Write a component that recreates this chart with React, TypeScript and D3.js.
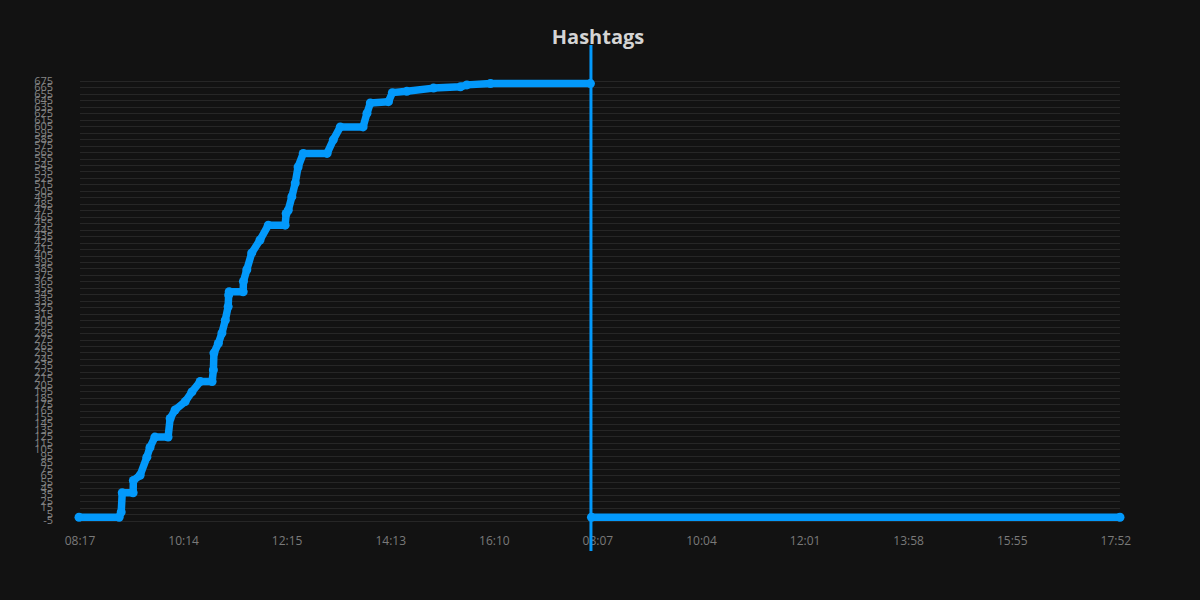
import { useEffect, useRef } from "react";
import * as d3 from "d3";

// x is a sample slot (about 3 min each); tick labels sit every 40 slots
const tickSlots = [0, 40, 80, 120, 160, 200, 240, 280, 320, 360, 400];
const tickLabels = [
  "08:17", "10:14", "12:15", "14:13", "16:10",
  "08:07", "10:04", "12:01", "13:58", "15:55", "17:52",
];

// day one: cumulative hashtag count
const day1Slots = [
  0, 15.5, 16.3, 16.7, 20.9, 21.0, 23.6, 26.2, 27.4, 29.3, 34.4, 35.2, 37.1,
  41.0, 43.6, 46.8, 51.4, 51.9, 52.1, 53.8, 55.2, 56.5, 57.6, 57.8, 58.0, 63.4,
  63.5, 64.8, 66.7, 69.9, 73.1, 79.6, 80.0, 80.8, 82.2, 83.5, 84.6, 86.6, 95.8,
  98.2, 100.9, 109.7, 111.2, 112.5, 119.5, 121.0, 126.6, 136.9, 147.3, 149.8,
  158.9, 197.5,
];
const day1Values = [
  0, 0, 8, 38, 38, 57, 65, 93, 108, 124, 124, 153, 166,
  179, 194, 210, 210, 228, 254, 269, 285, 305, 326, 344, 349, 349,
  365, 383, 409, 429, 452, 452, 470, 475, 496, 517, 542, 563, 563,
  584, 604, 604, 625, 641, 643, 657, 659, 664, 666, 669,
  671, 671,
];

// day two: counter reset
const day2Slots = [197.9, 402];
const day2Values = [0, 0];

const dayBreakSlot = 197.7;

const yMin = -5;
const yMax = 675;
const yStep = 10;

export default function App() {
  const svgRef = useRef<SVGSVGElement>(null);

  useEffect(() => {
    if (!svgRef.current) return;
    const width = 1200;
    const height = 600;
    const margin = { top: 81, right: 80, bottom: 79.5, left: 79 };
    const color = "#0399fb";

    const svg = d3.select(svgRef.current);
    svg.selectAll("*").remove();
    svg.attr("width", width).attr("height", height);

    svg.append("rect").attr("width", width).attr("height", height).attr("fill", "#121212");

    const x = d3
      .scaleLinear()
      .domain([0, 402])
      .range([margin.left, width - margin.right]);
    const y = d3
      .scaleLinear()
      .domain([yMin, yMax])
      .range([height - margin.bottom, margin.top]);

    const yTicks = d3.range(yMin, yMax + 1, yStep);

    // gridlines
    svg
      .append("g")
      .selectAll("line")
      .data(yTicks)
      .enter()
      .append("line")
      .attr("x1", x(0) + 1)
      .attr("x2", x(402))
      .attr("y1", (d) => Math.round(y(d)) + 0.5)
      .attr("y2", (d) => Math.round(y(d)) + 0.5)
      .attr("stroke", "#262626")
      .attr("stroke-width", 1);

    // y tick labels
    svg
      .append("g")
      .selectAll("text")
      .data(yTicks)
      .enter()
      .append("text")
      .attr("x", 53)
      .attr("y", (d) => y(d))
      .attr("dy", "0.35em")
      .attr("text-anchor", "end")
      .attr("fill", "#858585")
      .attr("font-family", "Open Sans, sans-serif")
      .attr("font-size", 11)
      .text((d) => d);

    // x tick labels
    svg
      .append("g")
      .selectAll("text")
      .data(tickSlots)
      .enter()
      .append("text")
      .attr("x", (d) => x(d) + 1)
      .attr("y", 545)
      .attr("text-anchor", "middle")
      .attr("fill", "#7a7a7a")
      .attr("font-family", "Open Sans, sans-serif")
      .attr("font-size", 12)
      .text((d, i) => tickLabels[i]);

    // day separator
    svg
      .append("line")
      .attr("x1", x(dayBreakSlot))
      .attr("x2", x(dayBreakSlot))
      .attr("y1", 45)
      .attr("y2", 551)
      .attr("stroke", color)
      .attr("stroke-width", 3);

    const line = d3
      .line<[number, number]>()
      .x((d) => x(d[0]))
      .y((d) => y(d[1]));

    const series: [number, number][][] = [
      day1Slots.map((s, i) => [s, day1Values[i]] as [number, number]),
      day2Slots.map((s, i) => [s, day2Values[i]] as [number, number]),
    ];

    series.forEach((pts) => {
      svg
        .append("path")
        .attr("d", line(pts))
        .attr("fill", "none")
        .attr("stroke", color)
        .attr("stroke-width", 7.5)
        .attr("stroke-linejoin", "round")
        .attr("stroke-linecap", "round");

      svg
        .append("g")
        .selectAll("circle")
        .data(pts)
        .enter()
        .append("circle")
        .attr("cx", (d) => x(d[0]))
        .attr("cy", (d) => y(d[1]))
        .attr("r", 4.5)
        .attr("fill", color);
    });

    // title
    svg
      .append("text")
      .attr("x", 598)
      .attr("y", 44)
      .attr("text-anchor", "middle")
      .attr("fill", "#d4d4d4")
      .attr("font-family", "Open Sans, sans-serif")
      .attr("font-weight", "bold")
      .attr("font-size", 20)
      .text("Hashtags");
  }, []);

  return (
    <svg
      ref={svgRef}
      style={{ position: "absolute", left: 0, top: 0, display: "block" }}
    ></svg>
  );
}
